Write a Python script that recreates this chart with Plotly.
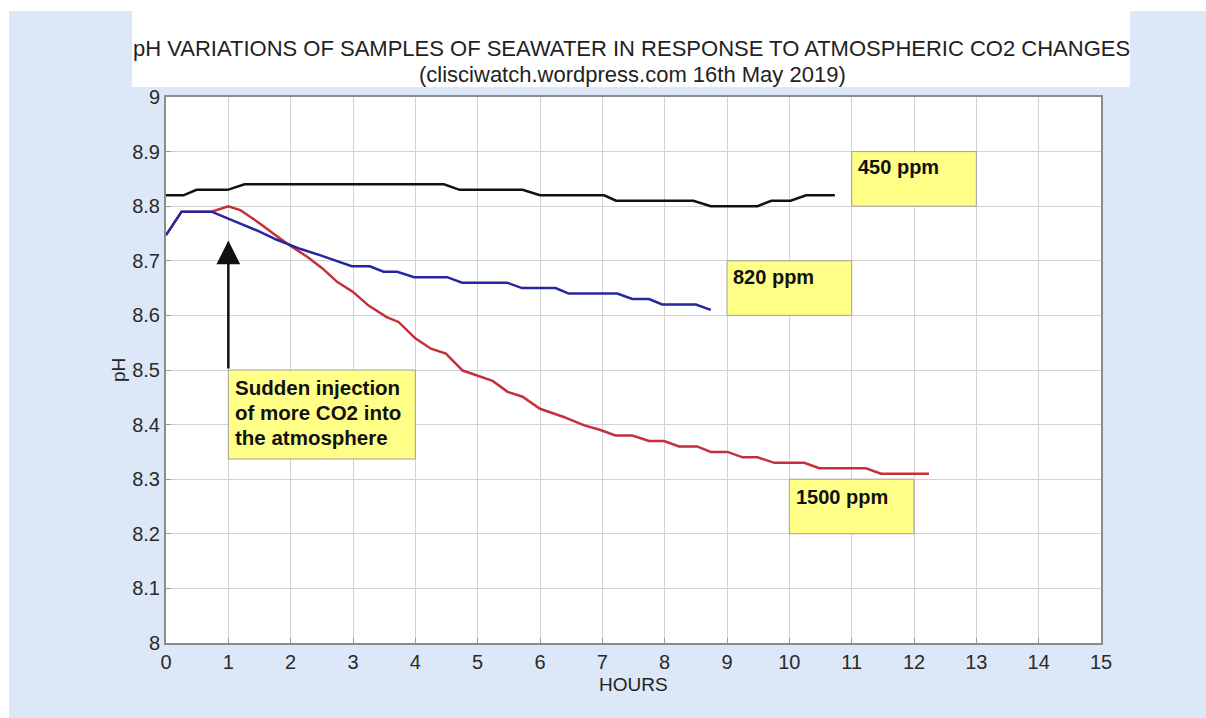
import plotly.graph_objects as go

# ---------------- data ----------------
hours_450 = [0, 0.28, 0.49, 0.99, 1.26, 4.46, 4.71, 5.72, 6.0, 7.03, 7.22, 8.46, 8.74, 9.49, 9.71, 10.02, 10.27, 10.73]
ph_450 = [8.82, 8.82, 8.83, 8.83, 8.84, 8.84, 8.83, 8.83, 8.82, 8.82, 8.81, 8.81, 8.80, 8.80, 8.81, 8.81, 8.82, 8.82]

hours_820 = [0, 0.25, 0.73, 1.0, 1.45, 1.77, 2.0, 2.15, 2.48, 2.98, 3.27, 3.49, 3.71, 3.98, 4.51, 4.75, 5.47, 5.71,
             6.25, 6.46, 7.24, 7.48, 7.75, 7.96, 8.5, 8.74]
ph_820 = [8.747, 8.79, 8.79, 8.777, 8.756, 8.739, 8.728, 8.722, 8.710, 8.69, 8.69, 8.68, 8.68, 8.67, 8.67, 8.66, 8.66, 8.65,
          8.65, 8.64, 8.64, 8.63, 8.63, 8.62, 8.62, 8.61]

hours_1500 = [0, 0.25, 0.73, 1.0, 1.19, 1.51, 1.83, 2.0, 2.27, 2.51, 2.75, 3.0, 3.25, 3.54, 3.73, 4.0, 4.25, 4.49, 4.76, 5.0,
              5.24, 5.48, 5.72, 6.0, 6.38, 6.7, 6.97, 7.21, 7.48, 7.75, 7.99, 8.23, 8.52, 8.74, 9.01, 9.25, 9.49, 9.76,
              10.24, 10.48, 11.23, 11.47, 12.24]
ph_1500 = [8.747, 8.79, 8.79, 8.80, 8.793, 8.768, 8.741, 8.727, 8.707, 8.686, 8.661, 8.643, 8.618, 8.597, 8.588, 8.558,
           8.539, 8.530, 8.499, 8.490, 8.480, 8.460, 8.451, 8.429, 8.414, 8.399, 8.39, 8.38, 8.38, 8.37, 8.37, 8.36,
           8.36, 8.35, 8.35, 8.34, 8.34, 8.33, 8.33, 8.32, 8.32, 8.31, 8.31]

x_ticks = list(range(0, 16))
x_ticklabels = [str(v) for v in x_ticks]
y_ticks = [8.0, 8.1, 8.2, 8.3, 8.4, 8.5, 8.6, 8.7, 8.8, 8.9, 9.0]
y_ticklabels = ["8", "8.1", "8.2", "8.3", "8.4", "8.5", "8.6", "8.7", "8.8", "8.9", "9"]

labels = ["450 ppm", "820 ppm", "1500 ppm"]
# label boxes: (x0, x1, y0, y1) in data units
label_boxes = [(11, 13, 8.8, 8.9), (9, 11, 8.6, 8.7), (10, 12, 8.2, 8.3)]
label_text_pos = [(11.07, 8.871), (9.06, 8.670), (10.07, 8.267)]

note_lines = ["Sudden injection", "of more CO2 into", "the atmosphere"]
note_box = (1, 4, 8.337, 8.5)
note_line_y = [8.468, 8.422, 8.377]
arrow_tip = (1, 8.737)

title1 = "pH VARIATIONS OF SAMPLES OF SEAWATER IN RESPONSE TO ATMOSPHERIC CO2 CHANGES"
title2 = "(clisciwatch.wordpress.com 16th May 2019)"

# ---------------- layout geometry (page pixels) ----------------
W, H = 1206, 718
ML, MR, MT, MB = 166, 105, 97, 75
PW = W - ML - MR
PH = H - MT - MB


def pxx(fx):
    return (fx - ML) / PW


def pxy(fy):
    return (H - MB - fy) / PH


FONT = "Arial, Liberation Sans, sans-serif"
BG = "#dce8f7"

fig = go.Figure()

fig.add_trace(go.Scatter(x=hours_1500, y=ph_1500, mode="lines", name="1500 ppm",
                         line=dict(color="#c4303a", width=2.5)))
fig.add_trace(go.Scatter(x=hours_820, y=ph_820, mode="lines", name="820 ppm",
                         line=dict(color="#2626a0", width=2.5)))
fig.add_trace(go.Scatter(x=hours_450, y=ph_450, mode="lines", name="450 ppm",
                         line=dict(color="#111111", width=2.5)))

shapes = []
# white page border strips (left and top) and white title panel
shapes.append(dict(type="rect", xref="paper", yref="paper", layer="below",
                   x0=pxx(0), x1=pxx(W), y0=pxy(11), y1=pxy(0),
                   fillcolor="white", line=dict(width=0)))
shapes.append(dict(type="rect", xref="paper", yref="paper", layer="below",
                   x0=pxx(0), x1=pxx(9), y0=pxy(H), y1=pxy(0),
                   fillcolor="white", line=dict(width=0)))
shapes.append(dict(type="rect", xref="paper", yref="paper", layer="below",
                   x0=pxx(132), x1=pxx(1130), y0=pxy(87), y1=pxy(11),
                   fillcolor="white", line=dict(width=0)))
# yellow label boxes
for (x0, x1, y0, y1) in label_boxes + [note_box]:
    shapes.append(dict(type="rect", xref="x", yref="y", x0=x0, x1=x1, y0=y0, y1=y1,
                       fillcolor="#ffff88", line=dict(color="#a0a0a0", width=1), layer="above"))

annotations = []
annotations.append(dict(xref="paper", yref="paper", x=pxx(631), y=pxy(48), text=title1,
                        showarrow=False, xanchor="center", yanchor="middle",
                        font=dict(family=FONT, size=22, color="#222222")))
annotations.append(dict(xref="paper", yref="paper", x=pxx(632), y=pxy(75), text=title2,
                        showarrow=False, xanchor="center", yanchor="middle",
                        font=dict(family=FONT, size=22, color="#222222")))
annotations.append(dict(xref="paper", yref="paper", x=pxx(118), y=pxy(370), text="pH",
                        showarrow=False, xanchor="center", yanchor="middle", textangle=-90,
                        font=dict(family=FONT, size=19, color="#222222")))
annotations.append(dict(xref="paper", yref="paper", x=pxx(633), y=pxy(684), text="HOURS",
                        showarrow=False, xanchor="center", yanchor="middle",
                        font=dict(family=FONT, size=19, color="#222222")))
for lab, (tx, ty) in zip(labels, label_text_pos):
    annotations.append(dict(xref="x", yref="y", x=tx, y=ty, text="<b>" + lab + "</b>",
                            showarrow=False, xanchor="left", yanchor="middle",
                            font=dict(family=FONT, size=20, color="#111111")))
for line, ly in zip(note_lines, note_line_y):
    annotations.append(dict(xref="x", yref="y", x=1.07, y=ly, text="<b>" + line + "</b>",
                            showarrow=False, xanchor="left", yanchor="middle",
                            font=dict(family=FONT, size=20.5, color="#111111")))
annotations.append(dict(xref="x", yref="y", x=arrow_tip[0], y=arrow_tip[1],
                        axref="x", ayref="y", ax=note_box[0], ay=note_box[3],
                        text="", showarrow=True, arrowhead=2, arrowsize=1.9,
                        arrowwidth=2.5, arrowcolor="#111111", standoff=0, startstandoff=0))

fig.update_layout(
    width=W, height=H,
    margin=dict(l=ML, r=MR, t=MT, b=MB, pad=0),
    paper_bgcolor=BG, plot_bgcolor="white",
    showlegend=False,
    shapes=shapes, annotations=annotations,
    font=dict(family=FONT, color="#333333"),
)
fig.update_xaxes(range=[0, 15], tickvals=x_ticks, ticktext=x_ticklabels,
                 showgrid=True, gridcolor="#d2d2d2", gridwidth=1,
                 showline=True, linecolor="#8c8c8c", linewidth=2, mirror=True,
                 ticks="inside", ticklen=5, tickcolor="#9a9a9a",
                 tickfont=dict(family=FONT, size=20, color="#2a2a2a"), zeroline=False)
fig.update_yaxes(range=[8, 9], tickvals=y_ticks, ticktext=y_ticklabels,
                 showgrid=True, gridcolor="#d2d2d2", gridwidth=1,
                 showline=True, linecolor="#8c8c8c", linewidth=2, mirror=True,
                 ticks="inside", ticklen=5, tickcolor="#9a9a9a",
                 tickfont=dict(family=FONT, size=20, color="#2a2a2a"), zeroline=False)

page_js = (
    "var de=document.documentElement, b=document.body;"
    "de.style.margin='0px'; de.style.padding='0px'; de.style.overflow='hidden'; de.style.background='" + BG + "';"
    "b.style.margin='0px'; b.style.padding='0px'; b.style.overflow='hidden'; b.style.background='" + BG + "';"
)
fig.write_html("out.html", config={"displayModeBar": False}, post_script=page_js)
